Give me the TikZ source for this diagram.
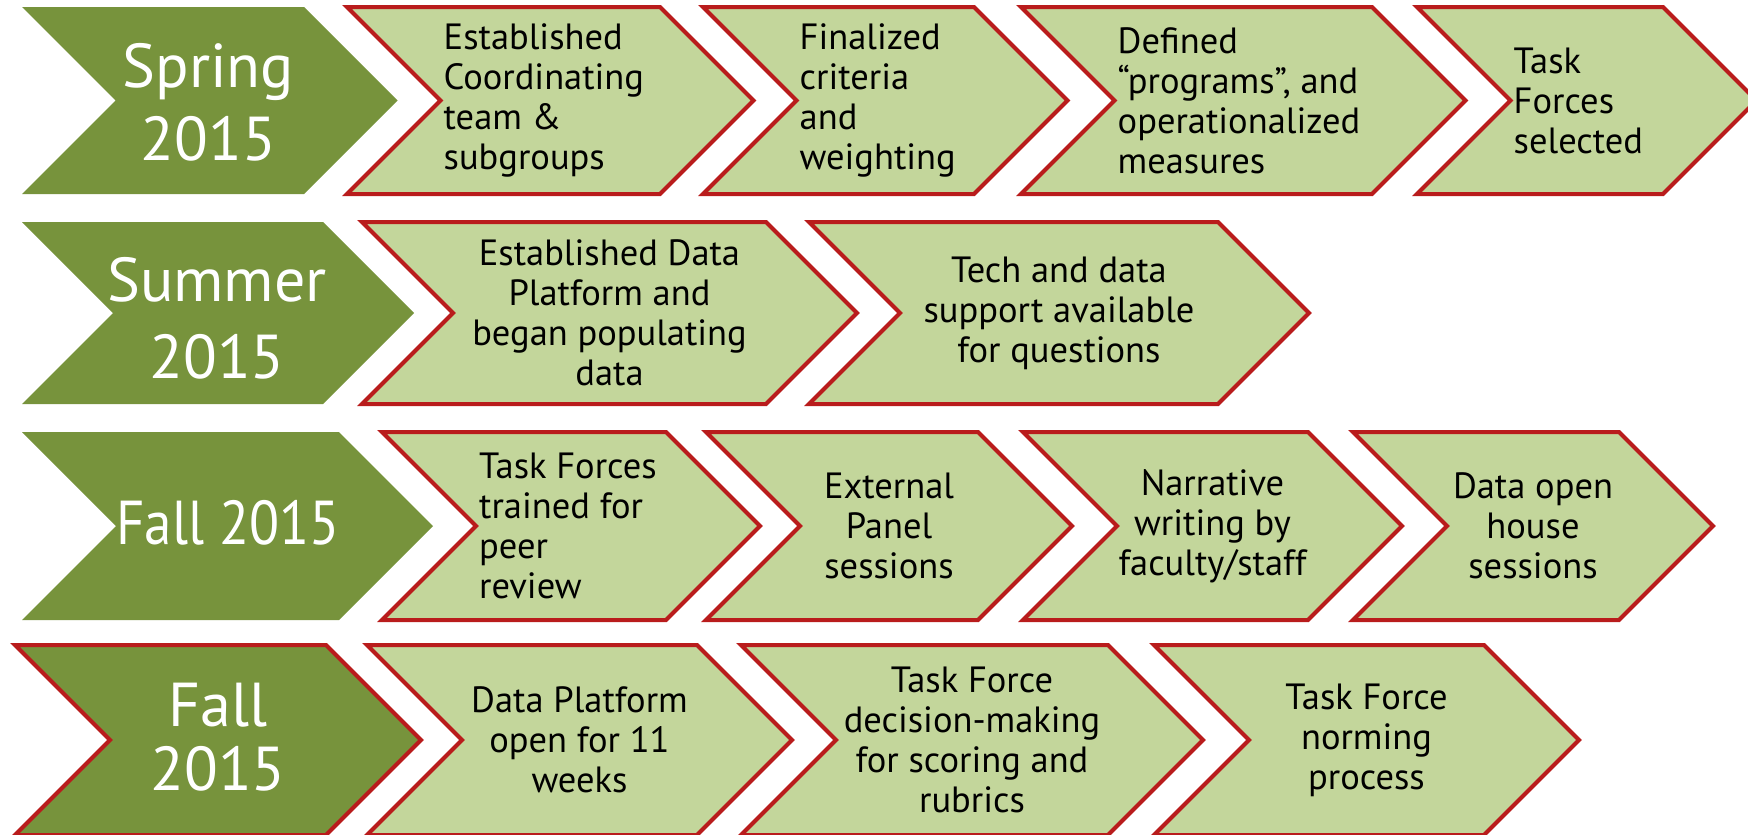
\documentclass[tikz,border=0pt]{standalone}
\usepackage{fontspec}
\setmainfont{PT Sans}
\definecolor{dkgreen}{RGB}{119,147,60}
\definecolor{ltgreen}{RGB}{195,214,155}
\definecolor{bordred}{RGB}{185,28,28}
\newcommand\chevshape[5]{% #1 style, #2 left, #3 right, #4 top, #5 bottom
  \pgfmathsetmacro\chh{(#5-#4)/2}%
  \pgfmathsetmacro\cmm{(#5+#4)/2}%
  \path[#1] (#2,#4) -- (#3,#4) -- ({#3+\chh},\cmm) -- (#3,#5) -- (#2,#5) -- ({#2+\chh},\cmm) -- cycle;%
}
\tikzset{
  headshape/.style={fill=dkgreen},
  headshapeb/.style={fill=dkgreen, draw=bordred, line width=4pt, line join=miter},
  stepbox/.style={fill=ltgreen, draw=bordred, line width=4pt, line join=miter},
  headtext/.style={text=white, font=\fontsize{62}{74}\selectfont, align=center, inner sep=0pt},
  bodytext/.style={text=black, font=\fontsize{36.5}{40}\selectfont, inner sep=0pt},
  lefttext/.style={bodytext, anchor=west, align=left},
  midtext/.style={bodytext, align=center},
}
\begin{document}
\begin{tikzpicture}[x=1pt,y=-1pt]
\useasboundingbox (0,0) rectangle (1748,835);
% Row 1
\chevshape{headshape}{22}{304}{7}{194}
\chevshape{stepbox}{347}{660}{7}{194}
\chevshape{stepbox}{703}{974}{7}{194}
\chevshape{stepbox}{1021}{1372}{7}{194}
\chevshape{stepbox}{1417}{1663}{7}{194}
\node[headtext, font=\fontsize{62}{73}\selectfont] (h1) at (208.5,102) {Spring\\2015};
\node[lefttext] (a1) at (443.5,100.5) {Established\\Coordinating\\team \&\\subgroups};
\node[lefttext] (a2) at (799.5,100.5) {Finalized\\criteria\\and\\weighting};
\node[lefttext] (a3) at (1117.5,100.5) {Defined\\“programs”, and\\operationalized\\measures};
\node[lefttext] (a4) at (1513.5,100.5) {Task\\Forces\\selected};
% Row 2
\chevshape{headshape}{22}{323}{222}{404}
\chevshape{stepbox}{362}{766}{222}{404}
\chevshape{stepbox}{809}{1218}{222}{404}
\node[headtext, font=\fontsize{62}{77}\selectfont] (h2) at (217,318) {Summer\\2015};
\node[midtext] (b1) at (609.5,313) {Established Data\\Platform and\\began populating\\data};
\node[midtext] (b2) at (1059,313) {Tech and data\\support available\\for questions};
% Row 3
\chevshape{headshape}{22}{339}{432}{620}
\chevshape{stepbox}{382}{666}{432}{620}
\chevshape{stepbox}{706}{978}{432}{620}
\chevshape{stepbox}{1023}{1308}{432}{620}
\chevshape{stepbox}{1353}{1619}{432}{620}
\node[headtext, xscale=0.89, transform shape] (h3) at (228,523) {Fall 2015};
\node[lefttext] (c1) at (479,526) {Task Forces\\trained for\\peer\\review};
\node[midtext] (c2) at (889,526) {External\\Panel\\sessions};
\node[midtext] (c3) at (1212.5,526) {Narrative\\writing by\\faculty/staff};
\node[midtext] (c4) at (1533,526) {Data open\\house\\sessions};
% Row 4
\chevshape{headshapeb}{15}{326}{645}{835}
\chevshape{stepbox}{367}{697}{645}{835}
\chevshape{stepbox}{741}{1108}{645}{835}
\chevshape{stepbox}{1154}{1484}{645}{835}
\node[headtext, font=\fontsize{62}{64}\selectfont] (h4) at (218,737.5) {Fall\\2015};
\node[midtext] (d1) at (579.5,740) {Data Platform\\open for 11\\weeks};
\node[midtext] (d2) at (972,740) {Task Force\\decision-making\\for scoring and\\rubrics};
\node[midtext] (d3) at (1366.5,740) {Task Force\\norming\\process};
\end{tikzpicture}
\end{document}
